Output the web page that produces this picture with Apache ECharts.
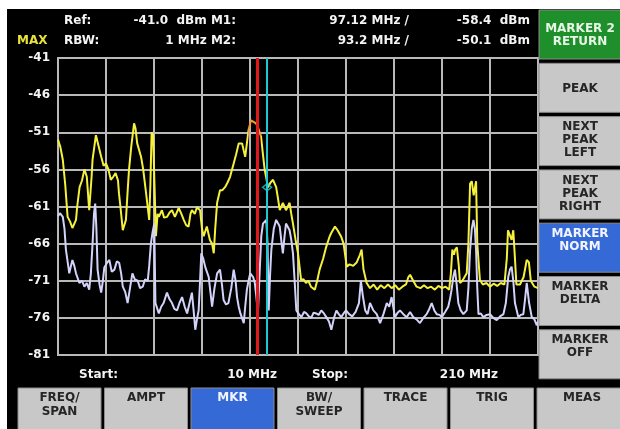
<!DOCTYPE html>
<html><head><meta charset="utf-8">
<script src="https://cdn.jsdelivr.net/npm/echarts@6/dist/echarts.min.js"></script>
<style>html,body{margin:0;padding:0;background:#fff}#c{width:620px;height:429px}</style>
</head><body><div id="c"></div>
<script>
// ---- data ----
const startMHz = 10, stopMHz = 210;
const refLevel = -41, bottomLevel = -81;
const yTickLabels = ['-81','-76','-71','-66','-61','-56','-51','-46','-41'];
const markerNames = ['M1','M2'];
const markerFreq = [97.12, 93.2];
const markerLevel = [-58.4, -50.1];

const maxHoldFreq = [10,11,12,13,14,15,16,17.5,18,19,20,21,22,22.4,23,24,24.4,25.8,27,28,29,30,31,32,33,34,35,35.4,36,37,38.3,39,39.6,40.5,41.7,42.3,43,44.6,45.5,46.7,48,48.5,49,49.6,50.2,50.8,51.5,52,53.3,54.2,55.4,56.5,57.5,58.7,60.3,61.4,62.4,63.4,64.4,65.2,65.8,67,67.9,69.2,70,70.7,72,73.3,74.2,74.9,75.5,76.3,77.5,78.5,79.6,80.6,81.7,83.2,84.2,85.3,86.7,87.4,88,88.7,89.4,90.4,91.5,92.5,93.5,94.6,95.4,96.1,97.5,98.5,99.6,100.9,101.7,102.4,103.7,105,106.5,107.2,107.9,109,110,111.3,112.3,113.3,114.3,115.4,117,118,119,120.5,121.7,123,123.8,125.4,126.5,127.9,129,130.3,131.5,133,134.5,135.8,136.5,137.3,138.6,140,141.5,143,144.5,146,147.5,149,150.5,152,153.5,155,156,156.7,158,159.4,161,162.5,164,165.5,167,168.5,170,171.5,173,173.7,174.3,175,175.5,176.2,177,177.5,178.5,180.3,181,181.7,182.4,183.2,184.2,184.7,185.8,187,188.5,190,191.5,193,194.5,196,197,197.5,198.3,199,199.7,200.4,201,202.5,204,205.3,206.2,207,208.5,210];
const maxHoldLevel = [-52,-53,-54.7,-58,-62.4,-63,-63.9,-62.8,-61,-58.4,-57.5,-56,-57,-58.8,-61.5,-57,-54.7,-51.4,-53,-54.3,-55.5,-55.2,-56,-57.4,-57,-56.5,-57.5,-59.2,-61,-64.2,-62.8,-59,-56,-53,-49.8,-50.5,-52.5,-54.3,-56,-59.2,-62.8,-58,-51,-51.3,-58,-65,-62,-62.4,-61.5,-62.5,-62.4,-61.8,-61.5,-62.4,-61.2,-62,-62.8,-63.5,-63.7,-62,-61.5,-62,-61.1,-61.5,-64,-65,-63.7,-65.5,-66,-67.3,-64,-60.5,-58.8,-58.8,-58.4,-57.8,-57,-55.2,-54,-52.5,-52.5,-53.5,-54.3,-52.5,-50.7,-49.4,-49.6,-49.8,-50.5,-51.6,-54,-56,-58.4,-57.8,-57.4,-58.4,-60,-61.5,-60.5,-61.5,-60.5,-62,-63.3,-65.5,-67.3,-70.9,-70.8,-71.3,-71,-71.8,-72.2,-71,-69.5,-68,-66.5,-65.2,-64.6,-63.7,-64.2,-65,-66,-69.1,-68.8,-69,-68.5,-67.5,-66.8,-69.5,-71.3,-72,-71.5,-72.2,-71.6,-72,-71.5,-72,-71.6,-72.2,-71.8,-71.5,-70.5,-70.2,-71,-71.8,-72,-71.6,-72,-71.8,-72.2,-71.7,-72,-71.8,-72.2,-70,-66.8,-67.5,-66.8,-66.5,-69,-71.3,-71,-70,-66,-57.9,-57.6,-59.5,-57.6,-66,-70.9,-71.5,-71.3,-71.8,-71.4,-71.7,-71.3,-71.5,-68,-64.2,-64,-65.5,-64.2,-68,-71.5,-71.5,-70.5,-68.2,-68.5,-71,-71.8,-72];

const liveFreq = [10,10.8,12,12.7,13.3,14.7,15.4,16,16.8,17.5,18.2,18.9,20,21,22,23,23.7,24.4,25,25.5,26,26.5,27.3,28,28.7,29.3,30.4,31.4,32.4,33.5,34.5,35.5,36.3,37,38,39,40,41,42,43.2,44.2,45.3,46.3,47.4,48,48.7,49.4,50.1,50.6,52,53,54,55.4,56.5,57.5,58.5,59.6,60.6,61.7,62.8,63.8,64.8,65.8,66.5,67.2,68,68.6,69.2,69.7,70.5,71.4,72.8,73.5,74.2,75.2,76.3,77.5,78.3,79,80,81,82.2,83.2,84,84.6,85.3,86,87.4,88,88.7,89.4,90.1,90.6,91.3,92,92.6,93.3,94,94.7,95.4,96.8,97.3,97.8,98.4,98.9,99.9,100.9,101.7,102.4,103,103.7,104.4,105,105.8,106.5,107.2,107.9,108.6,109.3,110.4,111.4,112.5,113.5,114.5,115.5,116.5,117.6,118.6,119.7,120.8,121.8,122.9,123.9,125,126,127,128,129,130,131.3,132.6,134,135.4,136.2,137,138,139,140,141.4,142.8,144.2,145.6,147,148,149,150.4,151.5,152.5,153.9,155.3,156.7,158,159.4,160.8,162.2,163.6,164.7,165.7,166.8,167.8,169,169.9,171.3,172.6,173.3,174,174.7,175.4,176.1,176.8,177.8,178.9,180.3,181,181.7,182.4,183.1,183.7,184.2,184.7,185.2,186.2,187.2,188.6,190,191.4,192.8,194.2,195.6,196.6,197.6,198.3,199,199.7,200.4,201.8,202.8,203.9,204.6,205.3,206.3,207.4,208.5,209.5,210];
const liveLevel = [-62.3,-61.9,-62.4,-64,-66.8,-70,-69,-68.2,-69,-70,-70.2,-71.3,-71,-71.8,-71.3,-72.2,-70,-66,-62,-60.6,-64,-69.5,-71.5,-72.6,-71,-69.2,-68.6,-68.2,-69.8,-69.5,-68.4,-68.6,-70,-71.8,-72.5,-74,-72,-70,-70.8,-71,-72,-71.8,-70.8,-71,-69,-66,-64.5,-63.3,-74,-75.4,-74.5,-74,-72.6,-73.5,-74,-74.8,-75,-74,-73.2,-74.5,-75.4,-74,-72.6,-75,-77.6,-76,-75,-71,-67.3,-68,-69.2,-70.5,-72.5,-74.5,-72,-70,-69.5,-71.5,-73.6,-74.2,-74,-72,-69.5,-71,-73.2,-74.5,-75.4,-76.7,-74.5,-72.2,-71,-70,-70,-70.5,-71.3,-73,-75.4,-70,-65,-63.3,-62.8,-66,-75,-70,-66.8,-64,-62.8,-63,-63.7,-65.5,-67.3,-65,-63.3,-63.5,-64.2,-65.5,-67.3,-71,-75,-75.5,-75.9,-75.2,-75.4,-75.8,-76,-75.3,-75.4,-75.6,-75,-75.4,-75.9,-76.5,-77.6,-76,-75,-75.5,-75.9,-75.4,-75,-75.5,-75.8,-75.2,-74,-71,-73,-75,-75.5,-74,-75,-75.5,-76.7,-75.5,-74,-74.5,-73.2,-75.9,-75.3,-75,-75.5,-75.9,-75.2,-75.9,-76.2,-76.7,-76,-75.5,-74.8,-74,-75,-75.5,-75.6,-75.9,-75.2,-74.5,-73.5,-72.2,-70.5,-69.5,-71.5,-74,-75,-75.5,-75,-72,-66.9,-64,-62.8,-64,-66.9,-72,-75.5,-75.4,-75.9,-75.6,-75.5,-76,-76.3,-75.8,-75.5,-74,-70.5,-69.5,-69.1,-71,-74,-75.9,-75.6,-75.5,-73.5,-71.3,-74,-75.9,-76.2,-77,-76.5];

const headerRow1 = ['Ref:', '-41.0  dBm M1:', '97.12 MHz /', '-58.4  dBm'];
const headerRow2 = ['RBW:', '1 MHz M2:', '93.2 MHz /', '-50.1  dBm'];
const traceMode = 'MAX';
const footer = ['Start:', '10 MHz', 'Stop:', '210 MHz'];
const sideButtons = ['MARKER 2\nRETURN','PEAK','NEXT\nPEAK\nLEFT','NEXT\nPEAK\nRIGHT','MARKER\nNORM','MARKER\nDELTA','MARKER\nOFF'];
const sideActive = [0, 4];
const bottomButtons = ['FREQ/\nSPAN','AMPT','MKR','BW/\nSWEEP','TRACE','TRIG','MEAS'];
const bottomActive = 2;

// ---- styles ----
const FONT = 'bold 12px "DejaVu Sans", sans-serif';
const GRID_COLOR = '#b9b9b9';
const YELLOW = '#f4f03c', ORANGE = '#f29a3a', LIVE = '#d2d2fa';
const BTN = '#c8c8c8', GREEN = '#1f8f2c', BLUE = '#3569d6';

function txt(text, x, y, opts) {
  opts = opts || {};
  const a = opts.align || 'left', v = opts.valign || 'middle';
  return { type: 'text', z: 10, style: { text: text, x: x, y: y, fill: opts.fill || '#f4f4f4',
    font: opts.font || FONT, align: a, textAlign: a, verticalAlign: v, textVerticalAlign: v,
    lineHeight: opts.lh || 13 } };
}

const graphics = [];
graphics.push({ type: 'rect', z: 1, shape: { x: 0, y: 0, width: 620, height: 9 }, style: { fill: '#fff' } });
graphics.push({ type: 'rect', z: 1, shape: { x: 0, y: 0, width: 7, height: 429 }, style: { fill: '#fff' } });

graphics.push(txt(traceMode, 17, 41, { fill: '#e8e23c' }));
graphics.push(txt(headerRow1[0], 64, 21));
graphics.push(txt(headerRow1[1], 236, 21, { align: 'right' }));
graphics.push(txt(headerRow1[2], 409, 21, { align: 'right' }));
graphics.push(txt(headerRow1[3], 530, 21, { align: 'right' }));
graphics.push(txt(headerRow2[0], 64, 41));
graphics.push(txt(headerRow2[1], 236, 41, { align: 'right' }));
graphics.push(txt(headerRow2[2], 409, 41, { align: 'right' }));
graphics.push(txt(headerRow2[3], 530, 41, { align: 'right' }));
graphics.push(txt(footer[0], 79, 375));
graphics.push(txt(footer[1], 277, 375, { align: 'right' }));
graphics.push(txt(footer[2], 312, 375));
graphics.push(txt(footer[3], 498, 375, { align: 'right' }));

sideButtons.forEach(function (label, i) {
  const top = 10 + i * 53.3, h = 49;
  let fill = BTN, tc = '#262626';
  if (i === sideActive[0]) { fill = GREEN; tc = '#e6f5e6'; }
  if (i === sideActive[1]) { fill = BLUE; tc = '#f2f4ff'; }
  graphics.push({ type: 'rect', z: 5, shape: { x: 539, y: top, width: 84, height: h },
    style: { fill: fill, stroke: '#8c8c8c', lineWidth: 1 } });
  if (i < 2) graphics.push(txt(label, 580, top + h / 2 + 1, { align: 'center', fill: tc }));
  else graphics.push(txt(label, 580, top + 4, { align: 'center', valign: 'top', fill: tc }));
});
bottomButtons.forEach(function (label, i) {
  const left = 18 + i * 86.5, w = (i === 6 ? 90 : 83);
  const act = i === bottomActive;
  graphics.push({ type: 'rect', z: 5, shape: { x: left, y: 388, width: w, height: 46 },
    style: { fill: act ? BLUE : BTN, stroke: '#8c8c8c', lineWidth: 1 } });
  graphics.push(txt(label, left + w / 2, 391, { align: 'center', valign: 'top', fill: act ? '#f2f4ff' : '#262626', lh: 14 }));
});

const option = {
  animation: false,
  backgroundColor: '#000',
  grid: { left: 58, top: 58, width: 480, height: 297, show: true, borderColor: GRID_COLOR, borderWidth: 2, backgroundColor: 'transparent' },
  xAxis: [
    { type: 'value', min: startMHz, max: stopMHz, show: false },
    { type: 'value', min: 0, max: stopMHz - startMHz, interval: 20, position: 'bottom', axisLine: { show: false }, axisTick: { show: false },
      axisLabel: { show: false }, splitLine: { show: true, lineStyle: { color: GRID_COLOR, width: 2 } } }
  ],
  yAxis: [
    { type: 'value', min: bottomLevel, max: refLevel, show: false, position: 'right' },
    { type: 'value', min: 0, max: refLevel - bottomLevel, interval: 5, position: 'left', axisLine: { show: false }, axisTick: { show: false },
      axisLabel: { color: '#f4f4f4', fontFamily: 'DejaVu Sans', fontWeight: 'bold', fontSize: 12, margin: 8,
        formatter: function (v) { return yTickLabels[Math.round(v / 5)]; } },
      splitLine: { show: true, lineStyle: { color: GRID_COLOR, width: 2 } } }
  ],
  visualMap: {
    show: false, type: 'piecewise', seriesIndex: 0, dimension: 0,
    pieces: [{ lt: 89, color: YELLOW }, { gte: 89, lt: 94.5, color: ORANGE }, { gte: 94.5, color: YELLOW }]
  },
  graphic: { elements: graphics },
  series: [
    { type: 'line', name: 'max hold', xAxisIndex: 0, yAxisIndex: 0, showSymbol: false, z: 3,
      data: maxHoldFreq.map(function (f, i) { return [f, maxHoldLevel[i]]; }),
      lineStyle: { width: 2 } },
    { type: 'line', name: 'live', xAxisIndex: 0, yAxisIndex: 0, showSymbol: false, z: 3,
      data: liveFreq.map(function (f, i) { return [f, liveLevel[i]]; }),
      lineStyle: { color: LIVE, width: 2 }, itemStyle: { color: LIVE } },
    { type: 'scatter', name: 'markers', xAxisIndex: 0, yAxisIndex: 0, z: 6,
      data: [[markerFreq[0], markerLevel[0]]],
      symbol: 'diamond', symbolSize: [9, 7], itemStyle: { color: 'transparent', borderColor: '#28c8d4', borderWidth: 1.5 },
      markLine: { silent: true, symbol: 'none', label: { show: false },
        data: [
          { xAxis: markerFreq[1], lineStyle: { color: '#e0181c', width: 3, type: 'solid' } },
          { xAxis: markerFreq[0], lineStyle: { color: '#22c6d0', width: 2, type: 'solid' } }
        ] } }
  ]
};
const chart = echarts.init(document.getElementById('c'), null, { renderer: 'canvas' });
chart.setOption(option);
</script></body></html>
